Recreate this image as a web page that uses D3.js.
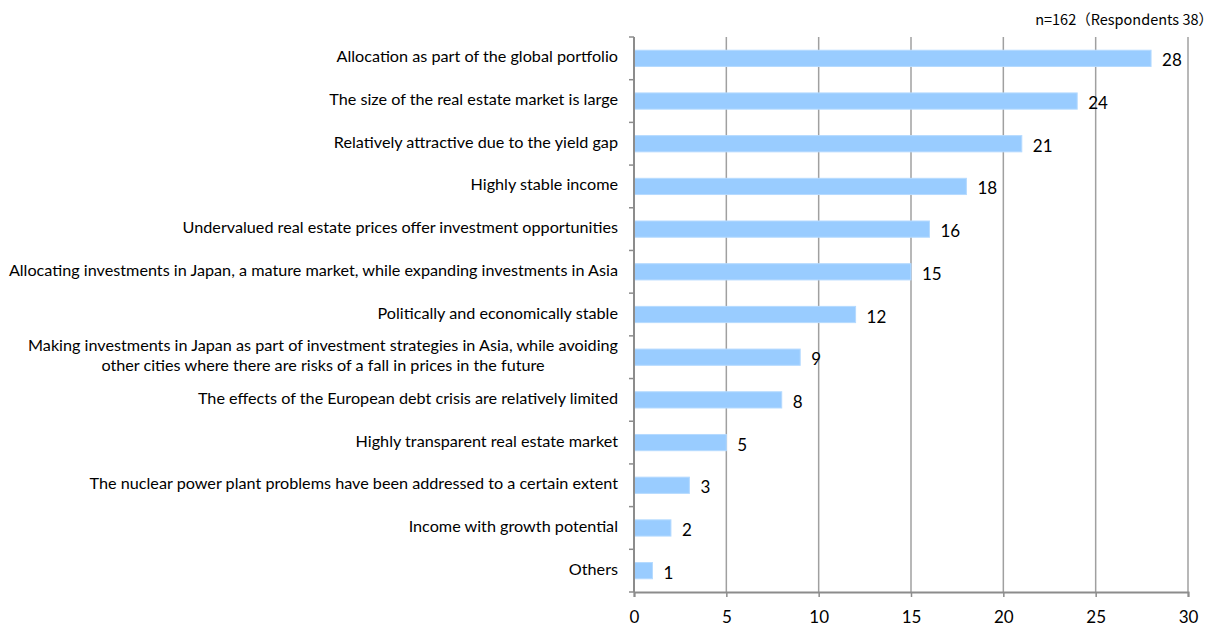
<!DOCTYPE html>
<html>
<head>
<meta charset="utf-8">
<script src="https://cdn.jsdelivr.net/npm/d3@7"></script>
<style>
  html, body { margin: 0; padding: 0; background: #fff; }
  svg { display: block; }
  .cat { font-family: Lato, "Open Sans", sans-serif; font-size: 16.2px; fill: #000; }
  .val { font-family: Lato, "Open Sans", sans-serif; font-size: 17px; fill: #000; }
  .tick-label { font-family: Lato, "Open Sans", sans-serif; font-size: 17px; fill: #000; }
  .note { font-family: "Noto Sans CJK JP", sans-serif; font-size: 14.5px; fill: #000; }
</style>
</head>
<body>
<svg id="chart" width="1220" height="626"></svg>
<script>
// Reasons for investing in Japanese real estate (number of answers)
const categories = [
  ["Allocation as part of the global portfolio"],
  ["The size of the real estate market is large"],
  ["Relatively attractive due to the yield gap"],
  ["Highly stable income"],
  ["Undervalued real estate prices offer investment opportunities"],
  ["Allocating investments in Japan, a mature market, while expanding investments in Asia"],
  ["Politically and economically stable"],
  ["Making investments in Japan as part of investment strategies in Asia, while avoiding",
   "other cities where there are risks of a fall in prices in the future"],
  ["The effects of the European debt crisis are relatively limited"],
  ["Highly transparent real estate market"],
  ["The nuclear power plant problems have been addressed to a certain extent"],
  ["Income with growth potential"],
  ["Others"]
];
const values = [28, 24, 21, 18, 16, 15, 12, 9, 8, 5, 3, 2, 1];
const xTicks = [0, 5, 10, 15, 20, 25, 30];
const noteText = "n=162（Respondents 38）";

const svg = d3.select("#chart");
const plot = { left: 634, right: 1188, top: 37, bottom: 592 };

const x = d3.scaleLinear().domain([0, 30]).range([plot.left, plot.right]);
const y = d3.scaleBand()
  .domain(d3.range(categories.length))
  .range([plot.top, plot.bottom])
  .paddingInner(0.62)
  .paddingOuter(0.31);

// vertical gridlines
svg.append("g")
  .selectAll("line")
  .data(xTicks.filter(t => t > 0))
  .join("line")
  .attr("x1", d => x(d)).attr("x2", d => x(d))
  .attr("y1", plot.top).attr("y2", plot.bottom)
  .attr("stroke", "#a0a0a0")
  .attr("stroke-width", 1.5);

// bars
svg.append("g")
  .selectAll("rect")
  .data(values)
  .join("rect")
  .attr("x", x(0))
  .attr("y", (d, i) => y(i))
  .attr("width", d => x(d) - x(0))
  .attr("height", y.bandwidth())
  .attr("fill", "#99ccff")
  .attr("stroke", "#b5daff")
  .attr("stroke-width", 1);

// value labels
svg.append("g")
  .selectAll("text")
  .data(values)
  .join("text")
  .attr("class", "val")
  .attr("x", d => x(d) + 11)
  .attr("y", (d, i) => y(i) + y.bandwidth() / 2 + 8)
  .text(d => d);

// bottom axis
const xAxis = d3.axisBottom(x).tickValues(xTicks).tickSize(5).tickPadding(14);
const gx = svg.append("g")
  .attr("transform", `translate(0,${plot.bottom})`)
  .call(xAxis);
gx.select(".domain").attr("stroke", "#8c8c8c").attr("stroke-width", 2);
gx.selectAll(".tick line").attr("stroke", "#8c8c8c").attr("stroke-width", 1.5);
gx.selectAll(".tick text").attr("class", "tick-label").attr("font-family", null).attr("font-size", null);

// left axis: ticks sit between categories
const yEdges = d3.range(categories.length + 1).map(i => plot.top + i * (plot.bottom - plot.top) / categories.length);
svg.append("line")
  .attr("x1", plot.left).attr("x2", plot.left)
  .attr("y1", plot.top).attr("y2", plot.bottom)
  .attr("stroke", "#8c8c8c").attr("stroke-width", 2);
svg.append("g")
  .selectAll("line")
  .data(yEdges)
  .join("line")
  .attr("x1", plot.left - 5).attr("x2", plot.left)
  .attr("y1", d => d).attr("y2", d => d)
  .attr("stroke", "#8c8c8c").attr("stroke-width", 1.5);

// category labels (multi-line labels are centred on their longest line)
const labelRight = 618;
const lineH = 20;
const catG = svg.append("g");
categories.forEach((lines, i) => {
  const cy = y(i) + y.bandwidth() / 2;
  const t = catG.append("text").attr("class", "cat");
  if (lines.length === 1) {
    t.attr("x", labelRight).attr("y", cy + 4).attr("text-anchor", "end").text(lines[0]);
  } else {
    const tmp = t.append("tspan").text(lines[0]);
    const w = tmp.node().getComputedTextLength();
    tmp.remove();
    const cx = labelRight - w / 2;
    t.attr("text-anchor", "middle");
    lines.forEach((ln, k) => {
      t.append("tspan")
        .attr("x", cx)
        .attr("y", cy + 4 + (k - (lines.length - 1) / 2) * lineH)
        .text(ln);
    });
  }
});

// sample size note
svg.append("text")
  .attr("class", "note")
  .attr("x", 1213)
  .attr("y", 25)
  .attr("text-anchor", "end")
  .text(noteText);
</script>
</body>
</html>
